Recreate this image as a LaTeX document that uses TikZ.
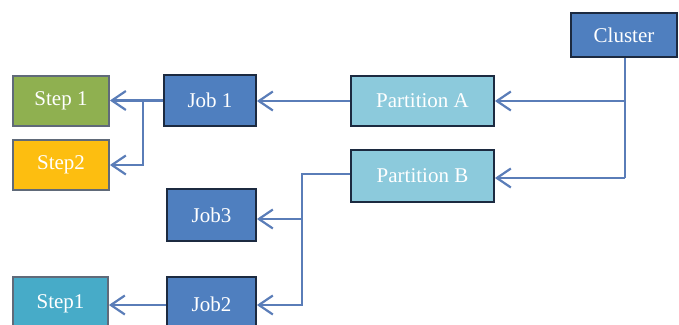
\documentclass[tikz,border=0pt]{standalone}
\usepackage{fontspec}
\setmainfont{Liberation Serif}
\usetikzlibrary{arrows.meta}
\definecolor{jobblue}{HTML}{4F7FBF}
\definecolor{partblue}{HTML}{8CCADC}
\definecolor{stepgreen}{HTML}{8FB050}
\definecolor{steporange}{HTML}{FDBE10}
\definecolor{stepaqua}{HTML}{47ABC8}
\definecolor{edgedark}{HTML}{1C2A40}
\definecolor{linkblue}{HTML}{5A7DB8}
\tikzset{
  box/.style={draw=edgedark, line width=1.8pt, rectangle, inner sep=0pt,
    text=white, font=\fontsize{21}{23}\selectfont},
  link/.style={draw=linkblue, line width=2.2pt,
    -{Straight Barb[length=14pt,width=19pt,line width=2.2pt]}},
  plain/.style={draw=linkblue, line width=2.2pt}
}
\begin{document}
\begin{tikzpicture}[x=1pt,y=-1pt]
\useasboundingbox (0,0) rectangle (679,324);
\clip (0,0) rectangle (679,324);
\node[box, fill=jobblue, minimum width=106pt, minimum height=44pt] (cluster) at (624,35) {Cluster};
\node[box, fill=partblue, minimum width=143pt, minimum height=50pt] (pa) at (422.5,101) {Partition A};
\node[box, fill=partblue, minimum width=143pt, minimum height=52pt] (pb) at (422.5,176) {Partition B};
\node[box, fill=jobblue, minimum width=92pt, minimum height=51pt] (job1) at (210,100.5) {Job 1};
\node[box, fill=stepgreen, draw=edgedark!70, minimum width=96pt, minimum height=50pt] (s1) at (61,101) {Step 1};
\node[box, fill=steporange, draw=edgedark!70, minimum width=96pt, minimum height=50pt] (s2) at (61,165) {Step2};
\node[box, fill=jobblue, minimum width=89pt, minimum height=52pt] (job3) at (211.5,215) {Job3};
\node[box, fill=jobblue, minimum width=89pt, minimum height=54pt] (job2) at (211.5,304) {Job2};
\node[box, fill=stepaqua, draw=edgedark!70, minimum width=95pt, minimum height=54pt] (s3) at (60.5,304) {Step1};
\coordinate (cj) at (625,101);
\coordinate (cb) at (625,178);
\coordinate (j1) at (143,100.5);
\coordinate (pbl) at (302,174);
\coordinate (j3) at (302,219);
% cluster to partitions
\draw[plain] (cluster.south -| cj) -- (cb);
\draw[link] (cj) -- (pa.east);
\draw[link] (cb) -- (pb.east |- cb);
% partition A to job 1
\draw[link] (pa.west) -- (job1.east |- pa.west);
% job 1 to steps
\draw[link] (job1.west) -- (s1.east |- job1.west);
\draw[link] (j1) |- (s2.east);
% partition B to jobs
\draw[plain] (pb.west |- pbl) -- (pbl) -- (j3);
\draw[link] (j3) -- (job3.east |- j3);
\draw[link] (j3) |- (job2.east |- 0,305);
% job 2 to step1
\draw[link] (job2.west |- 0,305) -- (s3.east |- 0,305);
\end{tikzpicture}
\end{document}
